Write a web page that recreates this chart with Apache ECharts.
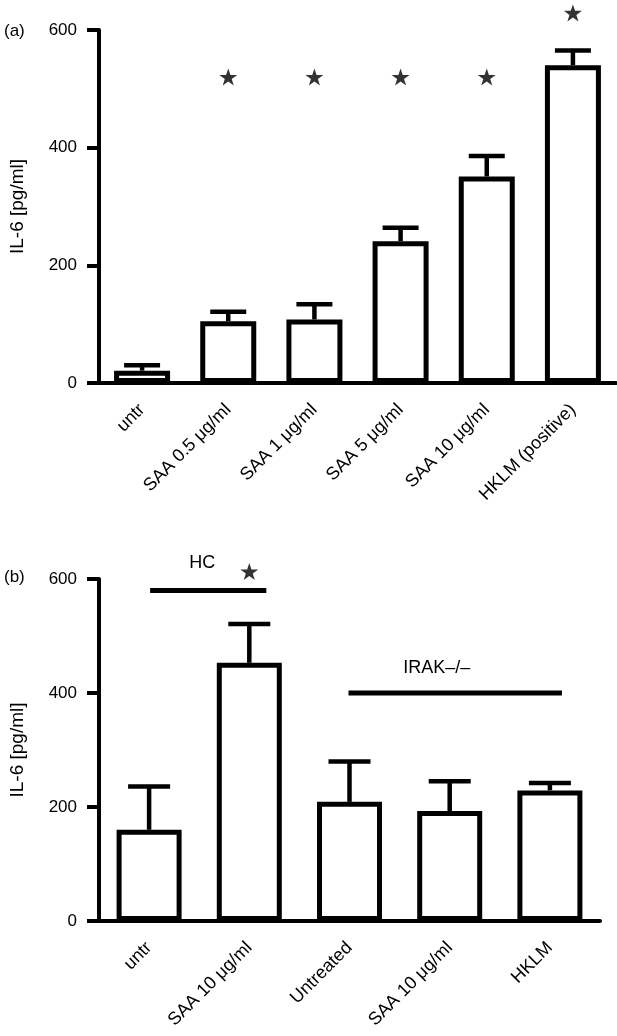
<!DOCTYPE html>
<html><head><meta charset="utf-8">
<script src="https://cdn.jsdelivr.net/npm/echarts@6/dist/echarts.min.js"></script>
<style>html,body{margin:0;padding:0;background:#fff}#c{width:617px;height:1036px}</style>
</head><body><div id="c"></div>
<script>
// Panel (a)
const catsA = ['untr','SAA 0.5 μg/ml','SAA 1 μg/ml','SAA 5 μg/ml','SAA 10 μg/ml','HKLM (positive)'];
const meanA = [21, 105, 108, 241, 351, 540];
const errTopA = [30, 121, 134, 264, 386, 565];
const starsA = [[1,520],[2,520],[3,520],[4,520],[5,629]];
// Panel (b)
const catsB = ['untr','SAA 10 μg/ml','Untreated','SAA 10 μg/ml','HKLM'];
const meanB = [160, 453, 209, 193, 229];
const errTopB = [236, 521, 280, 245, 242];
const starsB = [[1,613]];
const bracketsB = [[0.01, 1.17, 580], [1.99, 4.12, 400]];
const labelsB = [[0.53, 628, 'HC'], [2.87, 444, 'IRAK–/–']];
const yTicks = [0, 200, 400, 600];

const FONT = "'Liberation Sans', Arial, Helvetica, sans-serif";
const STAR = 'path://M12,0 L14.9,8.3 L24,8.3 L16.6,13.6 L19.4,22 L12,16.8 L4.6,22 L7.4,13.6 L0,8.3 L9.1,8.3 Z';

function errItem(capW){
  return function(params, api){
    const i = api.value(0), top = api.value(1), err = api.value(2);
    const p0 = api.coord([i, top]), p1 = api.coord([i, err]);
    return {type:'group', children:[
      {type:'line', shape:{x1:p0[0],y1:p0[1],x2:p1[0],y2:p1[1]}, style:{stroke:'#000',lineWidth:4.5}},
      {type:'line', shape:{x1:p1[0]-capW/2,y1:p1[1],x2:p1[0]+capW/2,y2:p1[1]}, style:{stroke:'#000',lineWidth:4.5}}
    ]};
  };
}
function bracketItem(params, api){
  const a = api.coord([api.value(0), api.value(2)]), b = api.coord([api.value(1), api.value(2)]);
  return {type:'line', shape:{x1:a[0],y1:a[1],x2:b[0],y2:b[1]}, style:{stroke:'#000',lineWidth:5}};
}
function textItem(params, api){
  const p = api.coord([api.value(0), api.value(1)]);
  return {type:'text', x:p[0], y:p[1], style:{text: labelsB[params.dataIndex][2], fill:'#000', font:'18px '+FONT, align:'center', verticalAlign:'middle'}};
}

function catAxis(cats, grid){
  return {type:'category', gridIndex:grid, data:cats, boundaryGap:true,
    axisLine:{lineStyle:{color:'#000',width:4}},
    axisTick:{alignWithLabel:true, length:10, lineStyle:{color:'#000',width:4}},
    axisLabel:{rotate:45, fontSize:18, fontFamily:FONT, color:'#000', margin:24, interval:0}};
}
function hidAxis(n, grid){
  return {type:'value', gridIndex:grid, min:-0.5, max:n-0.5, show:false};
}
function yAxis(grid){
  return {type:'value', gridIndex:grid, min:yTicks[0], max:yTicks[yTicks.length-1], interval:200,
    name:'IL-6 [pg/ml]', nameLocation:'middle', nameGap:72,
    nameTextStyle:{fontSize:19, fontFamily:FONT, color:'#000'},
    axisLine:{show:true, onZero:false, lineStyle:{color:'#000',width:4}},
    axisTick:{show:true, length:12, lineStyle:{color:'#000',width:4}},
    axisLabel:{fontSize:17, fontFamily:FONT, color:'#000', margin:22},
    splitLine:{show:false}};
}

const chart = echarts.init(document.getElementById('c'), null, {renderer:'canvas'});
chart.setOption({
  animation:false,
  backgroundColor:'#fff',
  grid:[
    {left:90, right:1, top:30, height:353},
    {left:90, right:17, top:579, height:342}
  ],
  xAxis:[catAxis(catsA,0), hidAxis(catsA.length,0), catAxis(catsB,1), hidAxis(catsB.length,1)],
  yAxis:[yAxis(0), yAxis(1)],
  graphic:[
    {type:'text', left:4, top:23, style:{text:'(a)', font:'17px '+FONT, fill:'#000'}},
    {type:'text', left:4, top:569, style:{text:'(b)', font:'17px '+FONT, fill:'#000'}}
  ],
  series:[
    {type:'custom', xAxisIndex:1, yAxisIndex:0, renderItem:errItem(36), clip:false, z:1,
      data: meanA.map((m,i)=>[i, m, errTopA[i]])},
    {type:'bar', xAxisIndex:0, yAxisIndex:0, data:meanA, barWidth:56, z:2,
      itemStyle:{color:'#fff', borderColor:'#000', borderWidth:5}},
    {type:'scatter', xAxisIndex:1, yAxisIndex:0, data:starsA, symbol:STAR, symbolSize:[18,17],
      itemStyle:{color:'#000'}, clip:false, z:3},
    {type:'custom', xAxisIndex:3, yAxisIndex:1, renderItem:errItem(42), clip:false, z:1,
      data: meanB.map((m,i)=>[i, m, errTopB[i]])},
    {type:'bar', xAxisIndex:2, yAxisIndex:1, data:meanB, barWidth:65, z:2,
      itemStyle:{color:'#fff', borderColor:'#000', borderWidth:5}},
    {type:'scatter', xAxisIndex:3, yAxisIndex:1, data:starsB, symbol:STAR, symbolSize:[18,17],
      itemStyle:{color:'#000'}, clip:false, z:3},
    {type:'custom', xAxisIndex:3, yAxisIndex:1, renderItem:bracketItem, clip:false, z:3, data:bracketsB},
    {type:'custom', xAxisIndex:3, yAxisIndex:1, renderItem:textItem, clip:false, z:3,
      data: labelsB.map(d=>[d[0], d[1]])}
  ]
});
</script></body></html>
